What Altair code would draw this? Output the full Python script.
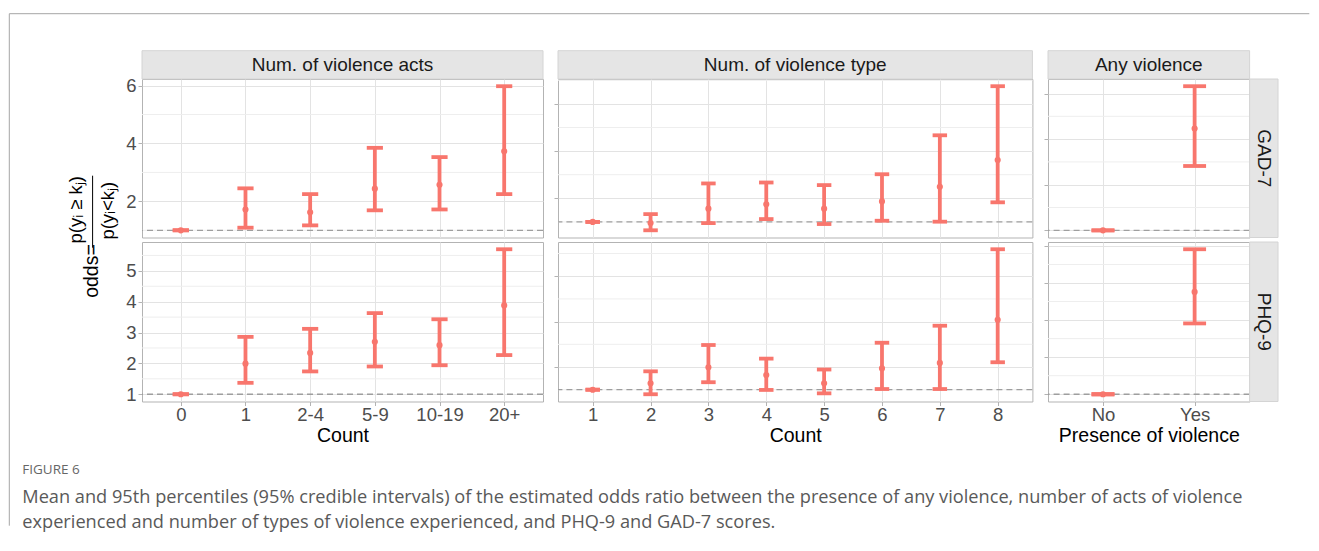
import altair as alt
import pandas as pd

FONT = "Liberation Sans"
RED = "#F8766D"

# ---------------- data ----------------
acts_cats = ["0", "1", "2-4", "5-9", "10-19", "20+"]
types_cats = ["1", "2", "3", "4", "5", "6", "7", "8"]
any_cats = ["No", "Yes"]

gad7_acts_mean = [1.00, 1.72, 1.62, 2.44, 2.57, 3.73]
gad7_acts_low = [1.00, 1.09, 1.17, 1.69, 1.72, 2.25]
gad7_acts_high = [1.00, 2.45, 2.25, 3.85, 3.53, 5.98]

phq9_acts_mean = [1.00, 1.99, 2.34, 2.70, 2.59, 3.88]
phq9_acts_low = [1.00, 1.37, 1.74, 1.90, 1.94, 2.27]
phq9_acts_high = [1.00, 2.86, 3.12, 3.63, 3.43, 5.70]

gad7_types_mean = [1.00, 0.95, 1.56, 1.75, 1.56, 1.87, 2.49, 3.62]
gad7_types_low = [1.00, 0.645, 0.95, 1.12, 0.91, 1.05, 1.01, 1.83]
gad7_types_high = [1.00, 1.33, 2.63, 2.67, 2.56, 3.02, 4.67, 6.75]

phq9_types_mean = [1.00, 1.28, 1.99, 1.65, 1.28, 1.94, 2.18, 4.08]
phq9_types_low = [1.00, 0.80, 1.33, 0.99, 0.84, 1.03, 1.03, 2.21]
phq9_types_high = [1.00, 1.81, 2.97, 2.37, 1.89, 3.07, 3.82, 7.19]

gad7_any_mean = [1.00, 3.23]
gad7_any_low = [1.00, 2.41]
gad7_any_high = [1.00, 4.16]

phq9_any_mean = [1.00, 3.76]
phq9_any_low = [1.00, 2.91]
phq9_any_high = [1.00, 4.91]

gad7_acts_ticks, gad7_acts_minor = [2, 4, 6], [1, 3, 5]
gad7_types_ticks, gad7_types_minor = [2, 4, 6], [1, 3, 5, 7]
gad7_any_ticks, gad7_any_minor = [1, 2, 3, 4], [1.5, 2.5, 3.5]
phq9_acts_ticks, phq9_acts_minor = [1, 2, 3, 4, 5], [1.5, 2.5, 3.5, 4.5, 5.5]
phq9_types_ticks, phq9_types_minor = [2, 4, 6], [1, 3, 5, 7]
phq9_any_ticks, phq9_any_minor = [1, 2, 3, 4, 5], [1.5, 2.5, 3.5, 4.5]

reference_odds = [1.0]

col_titles = ["Num. of violence acts", "Num. of violence type", "Any violence"]
row_titles = ["GAD-7", "PHQ-9"]
x_titles = ["Count", "Count", "Presence of violence"]
ytitle_parts = ["odds=", "p(y\u1d62 \u2265 k\u2c7c)", "p(y\u1d62<k\u2c7c)"]
caption_label = ["FIGURE 6"]
caption_lines = [
    "Mean and 95th percentiles (95% credible intervals) of the estimated odds ratio between the presence of any violence, number of acts of violence",
    "experienced and number of types of violence experienced, and PHQ-9 and GAD-7 scores.",
]

# ---------------- layout sizes ----------------
W = [401, 474.4, 201.6]
H = [158.5, 159.5]
STRIP_H = 28.3
RSTRIP_W = 28.4
GAP = 15

GRID_MAJOR = "#E3E3E3"
GRID_MINOR = "#EEEEEE"
BORDER = "#B3B3B3"
STRIP_FILL = "#E5E5E5"
STRIP_STROKE = "#D4D4D4"
FRAME = "#A6A6A6"

one = pd.DataFrame({"k": [0]})


def text_layer(t, x, y, size, color, font=FONT, angle=0, align="center"):
    return alt.Chart(pd.DataFrame({"t": [t]})).mark_text(
        font=font, fontSize=size, color=color, angle=angle, align=align,
        baseline="middle",
    ).encode(text="t:N", x=alt.value(x), y=alt.value(y))


def top_strip(text, width):
    rect = alt.Chart(one).mark_rect(fill=STRIP_FILL, stroke=STRIP_STROKE, strokeWidth=1).encode(
        x=alt.value(0), x2=alt.value(width), y=alt.value(-STRIP_H), y2=alt.value(0))
    return [rect, text_layer(text, width / 2, -STRIP_H / 2, 19, "#1A1A1A")]


def right_strip(text, width, height):
    rect = alt.Chart(one).mark_rect(fill=STRIP_FILL, stroke=STRIP_STROKE, strokeWidth=1).encode(
        x=alt.value(width), x2=alt.value(width + RSTRIP_W), y=alt.value(0), y2=alt.value(height))
    return [rect, text_layer(text, width + RSTRIP_W / 2, height / 2, 19, "#1A1A1A", angle=90)]


def panel(cats, mean, low, high, ticks, minor, width, height, show_y, show_x, x_title, extra):
    df = pd.DataFrame({"cat": cats, "mean": mean, "low": low, "high": high})
    lo, hi = min(low), max(high)
    r = hi - lo
    yscale = alt.Scale(domain=[lo - 0.05 * r, hi + 0.05 * r], nice=False, zero=False)
    yaxis = alt.Axis(
        values=ticks, title=None, labels=show_y, labelFontSize=18.5,
        labelColor="#4D4D4D", labelFont=FONT, labelPadding=2,
        tickColor=BORDER, tickSize=4, domain=False, grid=True,
        gridColor=GRID_MAJOR, gridWidth=1,
    )
    xscale = alt.Scale(type="point", padding=0.6, domain=cats)
    if show_x:
        xaxis = alt.Axis(
            title=x_title, labelAngle=0, labelFontSize=18.5, labelColor="#4D4D4D",
            labelFont=FONT, labelPadding=0, tickColor=BORDER, tickSize=4,
            domain=False, grid=True, gridColor=GRID_MAJOR, gridWidth=1,
            titleFont=FONT, titleFontSize=19.5, titleColor="#000000",
            titleFontWeight="normal", titlePadding=2,
        )
    else:
        xaxis = alt.Axis(title=None, labels=False, ticks=False, domain=False,
                         grid=True, gridColor=GRID_MAJOR, gridWidth=1)

    X = alt.X("cat:N", scale=xscale, axis=xaxis, sort=cats)

    def Y(field):
        return alt.Y(f"{field}:Q", scale=yscale, axis=yaxis)

    step = width / (len(cats) - 1 + 1.2)
    cap = 0.25 * step

    minor_layer = alt.Chart(pd.DataFrame({"v": minor})).mark_rule(
        color=GRID_MINOR, strokeWidth=1, opacity=1
    ).encode(y=Y("v"))
    ref_layer = alt.Chart(pd.DataFrame({"v": reference_odds})).mark_rule(
        color="#9E9E9E", strokeWidth=1.3, strokeDash=[6, 4], opacity=1
    ).encode(y=Y("v"))
    base = alt.Chart(df)
    bars = base.mark_rule(color=RED, strokeWidth=3.8, opacity=1).encode(
        x=X, y=Y("low"), y2=alt.Y2("high:Q"))
    cap_lo = base.mark_tick(color=RED, thickness=3.8, size=cap, orient="horizontal",
                            opacity=1).encode(x=X, y=Y("low"))
    cap_hi = base.mark_tick(color=RED, thickness=3.8, size=cap, orient="horizontal",
                            opacity=1).encode(x=X, y=Y("high"))
    pts = base.mark_circle(color=RED, size=38, opacity=1).encode(x=X, y=Y("mean"))
    return alt.layer(minor_layer, ref_layer, bars, cap_lo, cap_hi, pts, *extra).properties(
        width=width, height=height,
        view=alt.ViewBackground(stroke=BORDER, strokeWidth=1, fill="white"),
    )


rows_data = [
    [
        (acts_cats, gad7_acts_mean, gad7_acts_low, gad7_acts_high, gad7_acts_ticks, gad7_acts_minor),
        (types_cats, gad7_types_mean, gad7_types_low, gad7_types_high, gad7_types_ticks, gad7_types_minor),
        (any_cats, gad7_any_mean, gad7_any_low, gad7_any_high, gad7_any_ticks, gad7_any_minor),
    ],
    [
        (acts_cats, phq9_acts_mean, phq9_acts_low, phq9_acts_high, phq9_acts_ticks, phq9_acts_minor),
        (types_cats, phq9_types_mean, phq9_types_low, phq9_types_high, phq9_types_ticks, phq9_types_minor),
        (any_cats, phq9_any_mean, phq9_any_low, phq9_any_high, phq9_any_ticks, phq9_any_minor),
    ],
]

# decorations attached to the first panel: figure frame and the y-axis title
frame_layers = [
    alt.Chart(one).mark_rule(color=FRAME, strokeWidth=1).encode(
        x=alt.value(-132.7), y=alt.value(-65.3), y2=alt.value(446.7)),
    alt.Chart(one).mark_rule(color=FRAME, strokeWidth=1).encode(
        x=alt.value(-132.7), x2=alt.value(1167.3), y=alt.value(-65.3)),
    text_layer(ytitle_parts[0], -49.7, 192, 19.5, "#000000", angle=270),
    text_layer(ytitle_parts[1], -65.7, 130.7, 18.5, "#000000", angle=270),
    text_layer(ytitle_parts[2], -34.2, 131.7, 18.5, "#000000", angle=270),
    alt.Chart(one).mark_rule(color="#000000", strokeWidth=1).encode(
        x=alt.value(-49.4), y=alt.value(96.7), y2=alt.value(168.7)),
]

# caption attached to the bottom-left panel
CAP_FONT = "Open Sans"
caption_layers = [
    text_layer(caption_label[0], -119.7, 227.5, 13.5, "#666666", font=CAP_FONT, align="left"),
    text_layer(caption_lines[0], -119.7, 255.5, 18.2, "#595959", font=CAP_FONT, align="left"),
    text_layer(caption_lines[1], -119.7, 281, 18.2, "#595959", font=CAP_FONT, align="left"),
]

panels = []
for ri, row in enumerate(rows_data):
    for ci, (cats, m, lo, hi, tk, mn) in enumerate(row):
        extra = []
        if ri == 0:
            extra += top_strip(col_titles[ci], W[ci])
        if ci == 2:
            extra += right_strip(row_titles[ri], W[ci], H[ri])
        if ri == 0 and ci == 0:
            extra += frame_layers
        if ri == 1 and ci == 0:
            extra += caption_layers
        panels.append(panel(cats, m, lo, hi, tk, mn, W[ci], H[ri],
                            show_y=(ci == 0), show_x=(ri == 1), x_title=x_titles[ci],
                            extra=extra))

chart = alt.concat(
    *panels, columns=3, spacing={"row": 4, "column": GAP}, bounds="flush", align="each"
).properties(
    padding={"left": 0, "top": 4, "right": 0, "bottom": 0},
    background="white",
).configure_view(stroke="transparent")

chart.save("out.html", embed_options={"renderer": "svg", "actions": False})
